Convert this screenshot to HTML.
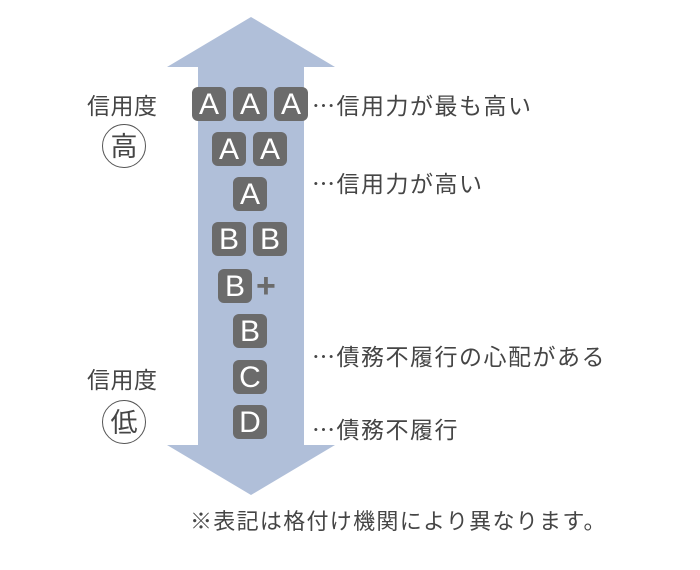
<!DOCTYPE html>
<html><head><meta charset="utf-8"><style>
body{margin:0;width:700px;height:570px;background:#fff;position:relative;overflow:hidden;font-family:"Noto Sans CJK JP","Liberation Sans",sans-serif;color:#454545}
.b{position:absolute;width:34px;height:34px;background:#6b6b6b;border-radius:6px;color:#fff;font-size:30px;line-height:35px;text-align:center;font-family:"Liberation Sans",sans-serif}
.t{position:absolute;font-size:23px;letter-spacing:1.5px;white-space:nowrap;line-height:26px}
.c{position:absolute;width:42px;height:42px;border:1.5px solid #555;border-radius:50%;font-size:27px;line-height:40px;text-align:center}
</style></head><body>
<svg style="position:absolute;left:0;top:0" width="700" height="570">
<polygon points="251,17 335,67 304,67 304,445 335,445 251,495 167,445 198,445 198,67 167,67" fill="#b0bfd9"/>
</svg>
<div class="b" style="left:192px;top:87px">A</div>
<div class="b" style="left:233px;top:87px">A</div>
<div class="b" style="left:274px;top:87px">A</div>
<div class="b" style="left:212px;top:132px">A</div>
<div class="b" style="left:253px;top:132px">A</div>
<div class="b" style="left:233px;top:177px">A</div>
<div class="b" style="left:212px;top:222px">B</div>
<div class="b" style="left:253px;top:222px">B</div>
<div class="b" style="left:218px;top:269px">B</div>
<div style="position:absolute;left:256px;top:268px;font-size:34px;font-weight:bold;color:#6b6b6b;line-height:36px;font-family:'Liberation Sans',sans-serif">+</div>
<div class="b" style="left:233px;top:314px">B</div>
<div class="b" style="left:233px;top:360px">C</div>
<div class="b" style="left:233px;top:405px">D</div>
<div class="t" style="left:312px;top:91px">…信用力が最も高い</div>
<div class="t" style="left:312px;top:169px">…信用力が高い</div>
<div class="t" style="left:312px;top:342px">…債務不履行の心配がある</div>
<div class="t" style="left:312px;top:415px">…債務不履行</div>
<div class="t" style="left:87px;top:91px;letter-spacing:0.5px">信用度</div>
<div class="c" style="left:102px;top:124px">高</div>
<div class="t" style="left:87px;top:365px;letter-spacing:0.5px">信用度</div>
<div class="c" style="left:102px;top:400px">低</div>
<div class="t" style="left:190px;top:507px;font-size:22px;letter-spacing:1.3px">※表記は格付け機関により異なります。</div>
</body></html>
